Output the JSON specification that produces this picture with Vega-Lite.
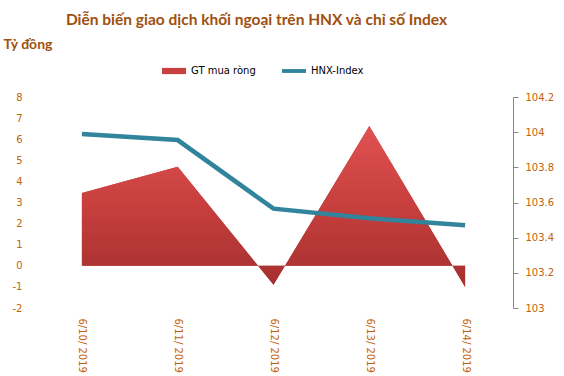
{
  "$schema": "https://vega.github.io/schema/vega-lite/v6.json",
  "autosize": "none",
  "width": 479,
  "height": 211,
  "padding": {"left": 34, "top": 97, "right": 51, "bottom": 68},
  "background": "white",
  "title": {
    "text": "Diễn biến giao dịch khối ngoại trên HNX và chỉ số Index",
    "font": "Lato",
    "fontSize": 15.5,
    "fontWeight": "bold",
    "color": "#a0500e",
    "anchor": "middle",
    "frame": "group",
    "dx": -17,
    "offset": 9
  },
  "config": {
    "view": {"stroke": null},
    "axis": {"grid": false, "labelFont": "DejaVu Sans", "labelFontSize": 10, "labelColor": "#c0630b"}
  },
  "data": {
    "values": [
      {"date": "6/10/ 2019", "gt": 3.45, "hnx": 103.99},
      {"date": "6/11/ 2019", "gt": 4.7, "hnx": 103.955},
      {"date": "6/12/ 2019", "gt": -0.9, "hnx": 103.565},
      {"date": "6/13/ 2019", "gt": 6.62, "hnx": 103.51},
      {"date": "6/14/ 2019", "gt": -1.0, "hnx": 103.47}
    ]
  },
  "encoding": {
    "x": {
      "field": "date",
      "type": "ordinal",
      "sort": null,
      "scale": {"type": "point", "padding": 0.5},
      "axis": {"title": null, "domain": false, "ticks": false, "labelAngle": 90, "labelAlign": "left", "labelBaseline": "middle", "labelPadding": 10}
    }
  },
  "layer": [
    {
      "layer": [
        {
          "mark": {"type": "area"},
          "encoding": {
            "y": {
              "field": "gt", "type": "quantitative",
              "scale": {"domain": [-2, 8], "nice": false},
              "axis": {"values": [-2,-1,0,1,2,3,4,5,6,7,8], "labelExpr": "'' + datum.value", "domain": false, "ticks": false, "labelPadding": 12,
                "title": "Tỷ đồng", "titleAngle": 0, "titleAlign": "left", "titleBaseline": "alphabetic", "titleX": -31, "titleY": -49,
                "titleFont": "Lato", "titleFontSize": 14, "titleFontWeight": "bold", "titleColor": "#a0500e"}
            },
            "color": {
              "datum": "GT mua ròng",
              "scale": {"domain": ["GT mua ròng", "HNX-Index"], "range": ["#c94040", "#31849b"]},
              "legend": {
                "orient": "none", "legendX": 128, "legendY": -38, "direction": "horizontal", "title": null,
                "symbolSize": 576, "columnPadding": 26, "labelOffset": 5,
                "labelFont": "DejaVu Sans", "labelFontSize": 10, "labelColor": "#000000",
                "encode": {
                  "symbols": {
                    "update": {
                      "shape": {"signal": "datum.value === 'HNX-Index' ? 'M-1,-0.16H1V0.16H-1Z' : 'M-1,-0.26H1V0.26H-1Z'"},
                      "fill": {"scale": "color", "field": "value"},
                      "stroke": {"value": "transparent"},
                      "strokeWidth": {"value": 0},
                      "opacity": {"value": 1}
                    }
                  }
                }
              }
            }
          }
        },
        {
          "mark": {
            "type": "area",
            "fill": {
              "gradient": "linear", "x1": 0, "y1": 0, "x2": 0, "y2": 1,
              "stops": [{"offset": 0, "color": "#e05252"}, {"offset": 0.5, "color": "#c63f3d"}, {"offset": 1, "color": "#a52f2f"}]
            }
          },
          "encoding": {
            "y": {
              "field": "gt", "type": "quantitative",
              "scale": {"domain": [-2, 8], "nice": false},
              "axis": {"values": [-2,-1,0,1,2,3,4,5,6,7,8], "labelExpr": "'' + datum.value", "domain": false, "ticks": false, "labelPadding": 12,
                "title": "Tỷ đồng", "titleAngle": 0, "titleAlign": "left", "titleBaseline": "alphabetic", "titleX": -31, "titleY": -49,
                "titleFont": "Lato", "titleFontSize": 14, "titleFontWeight": "bold", "titleColor": "#a0500e"}
            }
          }
        }
      ]
    },
    {
      "mark": {"type": "line", "strokeWidth": 4.5},
      "encoding": {
        "y": {
          "field": "hnx", "type": "quantitative",
          "scale": {"domain": [103, 104.2], "nice": false, "zero": false},
          "axis": {"orient": "right", "title": null, "values": [103, 103.2, 103.4, 103.6, 103.8, 104, 104.2], "labelExpr": "'' + datum.value",
            "domain": true, "domainColor": "#868686", "ticks": true, "tickColor": "#868686", "tickSize": 5, "labelPadding": 7}
        },
        "color": {"datum": "HNX-Index"}
      }
    }
  ],
  "resolve": {"scale": {"y": "independent"}}
}
